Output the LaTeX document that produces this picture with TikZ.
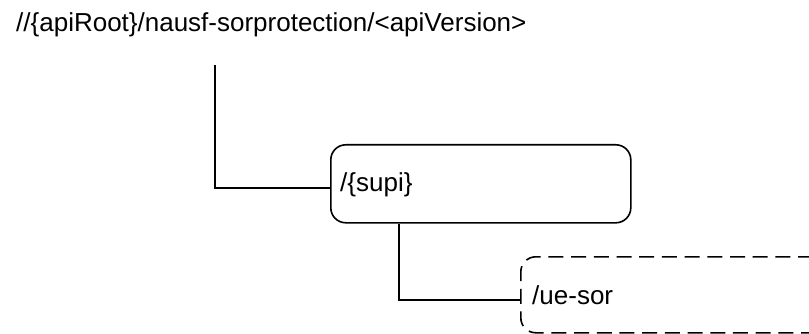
\documentclass[tikz,border=0pt]{standalone}
\usepackage{fontspec}
\setmainfont{Liberation Sans}
\begin{document}
\begin{tikzpicture}[x=1pt,y=-1pt,
  conn/.style={line width=1.6pt, draw=black},
  resbox/.style={draw=black, line width=1.6pt, rounded corners=15pt, rectangle, inner sep=0pt, anchor=north west},
  dashbox/.style={resbox, dash pattern=on 15pt off 7.7pt},
  lbl/.style={inner sep=0pt, anchor=base west, font=\fontsize{26pt}{31pt}\selectfont}]
\useasboundingbox (0,0) rectangle (809,334);
\node[lbl] (root) at (16,32) {//\{apiRoot\}/nausf-sorprotection/<apiVersion>};
\node[resbox, minimum width=300pt, minimum height=78pt] (supi) at (330,144) {};
\node[lbl] (supit) at (340,191) {/\{supi\}};
\node[dashbox, minimum width=330pt, minimum height=76pt] (uesor) at (520,256) {};
\node[lbl] (uesort) at (532,304) {/ue-sor};
\coordinate (r0) at (215,65);
\draw[conn] (r0) |- ([yshift=-4pt]supi.west);
\draw[conn] ([xshift=69pt]supi.south west) |- ([yshift=-5pt]uesor.west);
\end{tikzpicture}
\end{document}
